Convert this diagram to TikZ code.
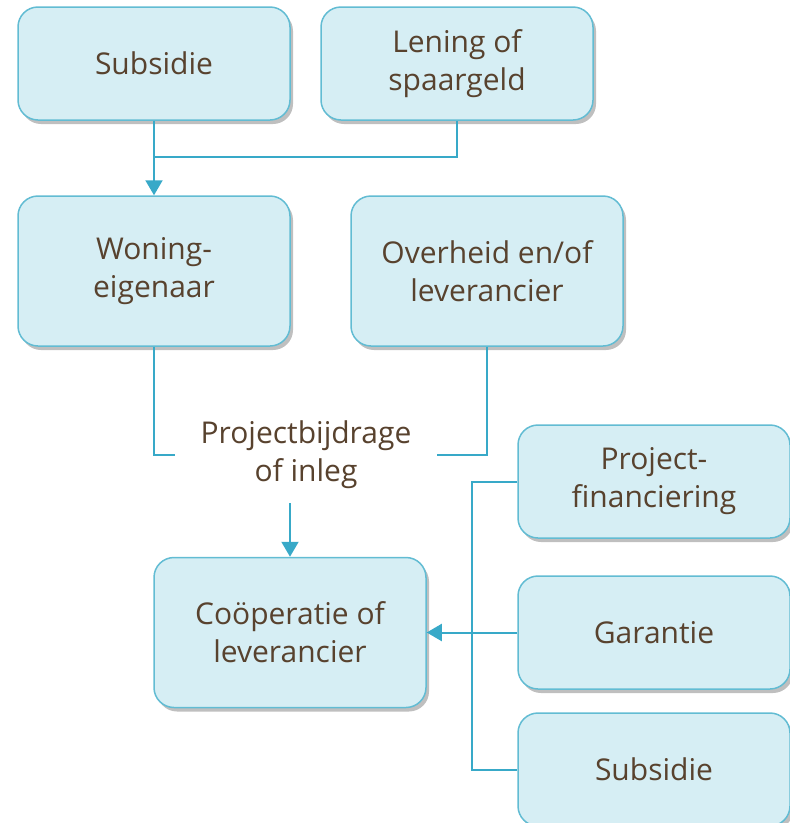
\documentclass[tikz,border=0pt]{standalone}
\usepackage{fontspec}
\setmainfont{Open Sans}
\usepackage{xcolor}
\usetikzlibrary{arrows.meta,shadows}

\definecolor{boxfill}{HTML}{D6EEF4}
\definecolor{boxline}{HTML}{62BCD3}
\definecolor{conline}{HTML}{38A9C8}
\definecolor{txtbrown}{HTML}{58422E}

\tikzset{
  box/.style={draw=boxline,fill=boxfill,line width=1.5pt,rounded corners=20pt,
    minimum width=272pt,minimum height=113pt,align=center,
    font=\fontsize{30}{38}\selectfont,text=txtbrown,
    drop shadow={shadow xshift=3pt,shadow yshift=-4pt,opacity=0.25,fill=black}},
  tallbox/.style={box,minimum height=150pt},
  con/.style={draw=conline,line width=2pt},
  conarrow/.style={con,-{Triangle[width=17pt,length=15pt]}}
}

\begin{document}
\begin{tikzpicture}[x=1pt,y=1pt]
\useasboundingbox (0,0) rectangle (790,-823);
% top row
\node[box] (subs) at (154,-63.5) {Subsidie};
\node[box] (lening) at (457,-63.5) {Lening of\\spaargeld};
% second row
\node[tallbox] (woning) at (154,-271) {Woning-\\eigenaar};
\node[tallbox] (overheid) at (487,-271) {Overheid en/of\\leverancier};
% label
\node[fill=white,minimum width=262pt,minimum height=96pt,align=center,
  font=\fontsize{30}{38}\selectfont,text=txtbrown] (inleg) at (306,-455) {Projectbijdrage\\of inleg};
% bottom
\node[tallbox] (coop) at (290,-632.5) {Coöperatie of\\leverancier};
\node[box] (projfin) at (654,-481.5) {Project-\\financiering};
\node[box] (garantie) at (654,-632.5) {Garantie};
\node[box] (subs2) at (654,-769.5) {Subsidie};

% connectors
\coordinate (j1) at (154,-157);
\draw[conarrow] (subs.south) -- (woning.north);
\draw[con] (lening.south) |- (j1);
\draw[con] (woning.south) |- (inleg.west);
\draw[con] (overheid.south) |- (inleg.east);
\draw[conarrow] (coop.north |- inleg.south) -- (coop.north);
\coordinate (bus) at (472,-481.5);
\draw[con] (projfin.west) -- (bus) |- (subs2.west);
\draw[conarrow] (garantie.west) -- (coop.east);
\end{tikzpicture}
\end{document}
